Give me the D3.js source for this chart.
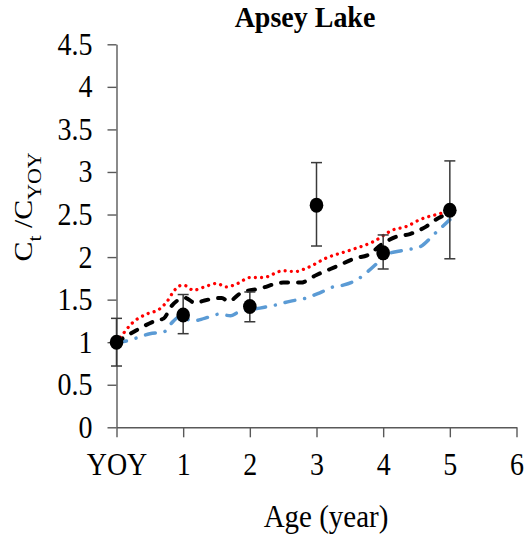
<!DOCTYPE html>
<html>
<head>
<meta charset="utf-8">
<script src="https://cdn.jsdelivr.net/npm/d3@7"></script>
<style>
  html, body { margin: 0; padding: 0; background: #fff; }
  svg { display: block; }
</style>
</head>
<body>
<svg id="chart" width="530" height="539"></svg>
<script>
// Observed ratio C_t / C_YOY by age, with error bar limits
const obsAges  = [0, 1, 2, 3, 4, 5];
const obsMean  = [1.0, 1.32, 1.42, 2.61, 2.05, 2.55];
const obsLower = [0.72, 1.10, 1.24, 2.13, 1.86, 1.98];
const obsUpper = [1.28, 1.56, 1.59, 3.11, 2.26, 3.13];

// Model curves (red dotted, black dashed, blue dash-dot)
const redAges   = [0, 0.08, 0.23, 0.48, 0.63, 0.76, 0.87, 0.98, 1.05, 1.15, 1.32, 1.50, 1.65, 1.82, 2.0, 2.2, 2.5, 2.68, 2.85, 3.15, 3.5, 3.85, 4.15, 4.35, 4.55, 4.85, 5.0];
const redVals   = [1.0, 1.08, 1.22, 1.34, 1.38, 1.48, 1.61, 1.67, 1.66, 1.61, 1.65, 1.69, 1.65, 1.69, 1.76, 1.76, 1.84, 1.83, 1.87, 1.99, 2.08, 2.18, 2.32, 2.36, 2.44, 2.51, 2.54];

const blackAges = [0, 0.30, 0.58, 0.71, 0.82, 1.03, 1.18, 1.32, 1.58, 1.68, 1.87, 2.15, 2.5, 2.76, 3.0, 3.3, 3.6, 3.76, 4.0, 4.2, 4.4, 4.55, 4.65, 4.75, 5.0];
const blackVals = [1.0, 1.14, 1.25, 1.28, 1.42, 1.52, 1.46, 1.49, 1.52, 1.48, 1.58, 1.63, 1.70, 1.70, 1.79, 1.89, 1.99, 2.02, 2.16, 2.24, 2.27, 2.32, 2.36, 2.42, 2.52];

const blueAges  = [0, 0.18, 0.30, 0.50, 0.71, 0.82, 0.95, 1.15, 1.32, 1.55, 1.71, 1.82, 2.15, 2.35, 2.6, 2.85, 3.05, 3.25, 3.4, 3.6, 3.77, 3.94, 4.05, 4.31, 4.55, 4.78, 5.0];
const blueVals  = [1.0, 1.02, 1.05, 1.10, 1.12, 1.22, 1.30, 1.25, 1.28, 1.33, 1.31, 1.35, 1.40, 1.43, 1.48, 1.52, 1.58, 1.65, 1.67, 1.73, 1.83, 1.95, 2.03, 2.08, 2.12, 2.28, 2.44];

// Axis ticks
const xTickVals   = [0, 1, 2, 3, 4, 5, 6];
const xTickLabels = ["YOY", "1", "2", "3", "4", "5", "6"];
const yTickVals   = [0, 0.5, 1, 1.5, 2, 2.5, 3, 3.5, 4, 4.5];

const serif = "'Liberation Serif', 'Times New Roman', 'DejaVu Serif', serif";
const svg = d3.select("#chart");
const stretch = 1.12;  // text drawn slightly tall

const x = d3.scaleLinear().domain([0, 6]).range([116.5, 516.5]);
const y = d3.scaleLinear().domain([0, 4.5]).range([427.3, 44.3]);

const axisColor = "#595959";

// Y axis
const yAxis = svg.append("g")
  .attr("transform", `translate(${x(0)},0)`)
  .call(d3.axisLeft(y).tickValues(yTickVals).tickSize(9).tickSizeOuter(0).tickFormat(d => String(d)));
yAxis.attr("font-family", null).attr("font-size", null);
yAxis.select(".domain").attr("stroke", axisColor).attr("stroke-width", 1.4);
yAxis.selectAll(".tick line").attr("stroke", axisColor).attr("stroke-width", 1.4);
yAxis.selectAll(".tick text")
  .attr("x", null).attr("dy", null).attr("y", null)
  .style("font-family", serif).style("font-size", "28px")
  .attr("fill", "#000")
  .attr("text-anchor", "end")
  .attr("transform", `translate(-24,10) scale(1,${stretch})`);

// X axis
const xAxis = svg.append("g")
  .attr("transform", `translate(0,${y(0)})`)
  .call(d3.axisBottom(x).tickValues(xTickVals).tickSize(10).tickSizeOuter(0).tickFormat((d, i) => xTickLabels[i]));
xAxis.attr("font-family", null).attr("font-size", null);
xAxis.select(".domain").attr("stroke", axisColor).attr("stroke-width", 1.4);
xAxis.selectAll(".tick line").attr("stroke", axisColor).attr("stroke-width", 1.4);
xAxis.selectAll(".tick text")
  .attr("y", null).attr("dy", null)
  .style("font-family", serif).style("font-size", "28px")
  .attr("fill", "#000")
  .attr("text-anchor", "middle")
  .attr("transform", `translate(0,48) scale(1,${stretch})`);

// Model curves
const line = d3.line().x(d => x(d[0])).y(d => y(d[1])).curve(d3.curveMonotoneX);
const pairs = (a, v) => a.map((t, i) => [t, v[i]]);

svg.append("path")
  .datum(pairs(blueAges, blueVals))
  .attr("d", line)
  .attr("fill", "none")
  .attr("stroke", "#5B9BD5")
  .attr("stroke-width", 3.5)
  .attr("stroke-linecap", "round")
  .attr("stroke-dasharray", "10 10 0.01 10");

svg.append("path")
  .datum(pairs(blackAges, blackVals))
  .attr("d", line)
  .attr("fill", "none")
  .attr("stroke", "#000")
  .attr("stroke-width", 4)
  .attr("stroke-linecap", "round")
  .attr("stroke-dasharray", "7 10");

svg.append("path")
  .datum(pairs(redAges, redVals))
  .attr("d", line)
  .attr("fill", "none")
  .attr("stroke", "#FF0000")
  .attr("stroke-width", 3.3)
  .attr("stroke-linecap", "round")
  .attr("stroke-dasharray", "0.01 6.2");

// Observations: error bars and markers
const obs = obsAges.map((a, i) => ({ a, m: obsMean[i], lo: obsLower[i], hi: obsUpper[i] }));
const eb = svg.append("g").attr("stroke", "#3a3a3a").attr("stroke-width", 1.5);
eb.selectAll(".stem").data(obs).join("line")
  .attr("x1", d => x(d.a)).attr("x2", d => x(d.a))
  .attr("y1", d => y(d.lo)).attr("y2", d => y(d.hi));
eb.selectAll(".capHi").data(obs).join("line")
  .attr("x1", d => x(d.a) - 5.5).attr("x2", d => x(d.a) + 5.5)
  .attr("y1", d => y(d.hi)).attr("y2", d => y(d.hi));
eb.selectAll(".capLo").data(obs).join("line")
  .attr("x1", d => x(d.a) - 5.5).attr("x2", d => x(d.a) + 5.5)
  .attr("y1", d => y(d.lo)).attr("y2", d => y(d.lo));

svg.append("g").selectAll("ellipse").data(obs).join("ellipse")
  .attr("cx", d => x(d.a)).attr("cy", d => y(d.m))
  .attr("rx", 6.8).attr("ry", 7.5)
  .attr("fill", "#000");

// Title
svg.append("text")
  .attr("transform", `translate(305,27) scale(1,1.05)`)
  .attr("text-anchor", "middle")
  .style("font-family", serif).style("font-size", "28px").style("font-weight", "bold")
  .text("Apsey Lake");

// X axis title
svg.append("text")
  .attr("transform", `translate(326,527) scale(1,1.08)`)
  .attr("text-anchor", "middle")
  .style("font-family", serif).style("font-size", "29px")
  .text("Age (year)");

// Y axis title: C_t / C_YOY
const yt = svg.append("text")
  .attr("transform", `translate(32,207) scale(1,1.15) rotate(-90)`)
  .attr("text-anchor", "middle")
  .style("font-family", serif).style("font-size", "26px");
yt.append("tspan").text("C");
yt.append("tspan").style("font-size", "19px").attr("dy", 9).text("t");
yt.append("tspan").attr("dy", -9).text(" /C");
yt.append("tspan").style("font-size", "19px").attr("dy", 9).text("YOY");
</script>
</body>
</html>
